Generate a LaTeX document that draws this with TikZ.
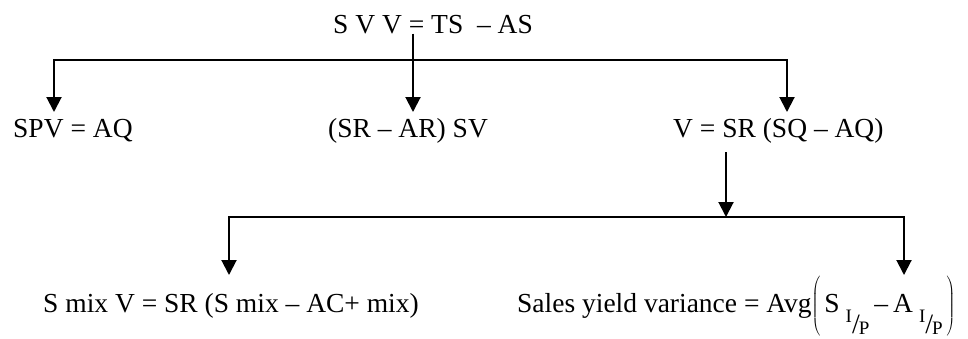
\documentclass[tikz,border=0pt]{standalone}
\usepackage{fontspec}
\setmainfont{Liberation Serif}
\usetikzlibrary{arrows.meta}
\newcommand{\ipf}{\kern6pt\raisebox{-10pt}{\fontsize{19}{19}\selectfont I}\raisebox{-21pt}{\fontsize{28}{28}\selectfont /}\kern-1pt\raisebox{-22pt}{\fontsize{19}{19}\selectfont P}}
\begin{document}
\begin{tikzpicture}[x=1pt,y=-1pt,
  txt/.style={anchor=base west, inner sep=0pt, font=\fontsize{27.5}{33}\selectfont},
  conn/.style={line width=2pt},
  arr/.style={conn, -{Triangle[length=15pt,width=15pt]}}]
\useasboundingbox (0,0) rectangle (968,338);
% texts
\node[txt] (top)  at (333,33)  {S V V = TS \ – AS};
\node[txt] (spv)  at (13,137)  {SPV = AQ};
\node[txt] (srar) at (328,137) {(SR – AR) SV};
\node[txt] (v)    at (673,137) {V = SR (SQ – AQ)};
\node[txt] (smix) at (43,312)  {S mix V = SR (S mix – AC+ mix)};
\node[txt] (sy)   at (517,312) {Sales yield variance = Avg$\left(\vrule height 37pt depth 26pt width 0pt\mbox{\kern4pt S\ipf\kern5pt–\kern5pt A\ipf}\kern4pt\right)$};
% junctions and tips
\coordinate (j0) at (413,60);
\coordinate (t1) at (54,112);
\coordinate (t2) at (413,112);
\coordinate (t3) at (787,112);
\coordinate (vb) at (726,152);
\coordinate (j1) at (726,217);
\coordinate (t4) at (229,275);
\coordinate (t5) at (904,275);
% first level
\draw[arr] (top.south -| t2) -- (t2);
\draw[arr] (j0) -| (t1);
\draw[arr] (j0) -| (t3);
% second level
\draw[arr] (vb) -- (j1);
\draw[arr] (j1) -| (t4);
\draw[arr] (j1) -| (t5);
\end{tikzpicture}
\end{document}
